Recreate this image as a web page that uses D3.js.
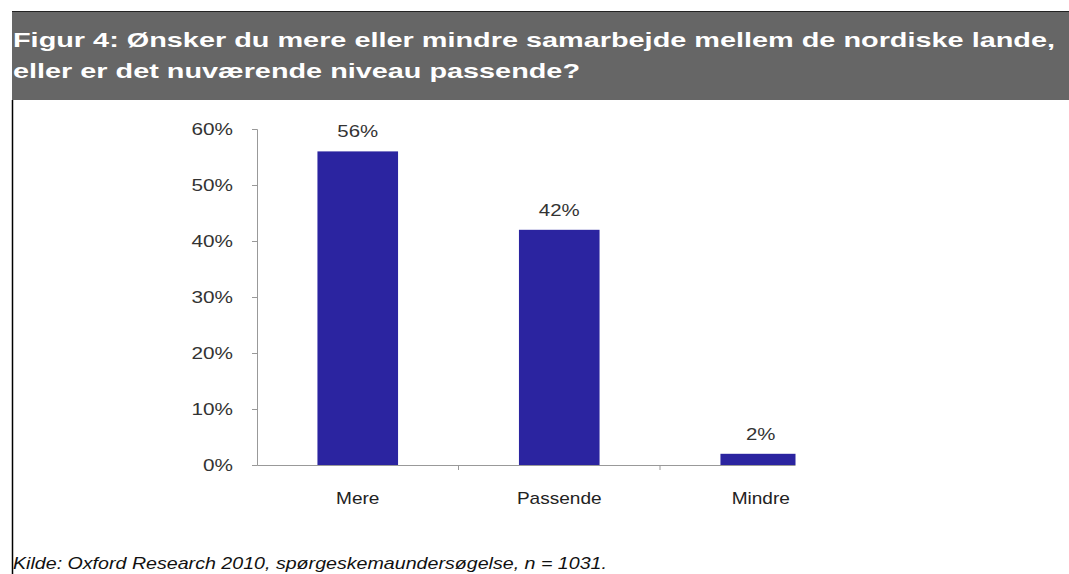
<!DOCTYPE html>
<html>
<head>
<meta charset="utf-8">
<script src="https://cdn.jsdelivr.net/npm/d3@7"></script>
<style>
  body { margin: 0; background: #fff; }
  svg { display: block; }
</style>
</head>
<body>
<div id="chart"></div>
<script>
const categories = ["Mere", "Passende", "Mindre"];
const values = [56, 42, 2];
const yTicks = [0, 10, 20, 30, 40, 50, 60];
const titleLines = [
    "Figur 4: Ønsker du mere eller mindre samarbejde mellem de nordiske lande,",
    "eller er det nuværende niveau passende?"
];
const source = "Kilde: Oxford Research 2010, spørgeskemaundersøgelse, n = 1031.";

const W = 1069, H = 574;
const font = "'Liberation Sans', Arial, sans-serif";

const svg = d3.select("#chart")
    .append("svg")
    .attr("width", W)
    .attr("height", H);

// stretch text a bit wider, the original is a squeezed screenshot
function widen(sel, k) {
    sel.each(function() {
        const len = this.getComputedTextLength();
        d3.select(this).attr("textLength", len * k).attr("lengthAdjust", "spacingAndGlyphs");
    });
}

// header box
svg.append("rect")
    .attr("x", 12).attr("y", 11)
    .attr("width", W - 12).attr("height", 89)
    .attr("fill", "#666666");
svg.append("line")
    .attr("x1", 12).attr("x2", W)
    .attr("y1", 11.5).attr("y2", 11.5)
    .attr("stroke", "#222").attr("stroke-width", 1);
svg.append("line")
    .attr("x1", 12.5).attr("x2", 12.5)
    .attr("y1", 100).attr("y2", H)
    .attr("stroke", "#000").attr("stroke-width", 1.5);

svg.append("text")
    .attr("x", 13).attr("y", 47)
    .attr("fill", "#fff")
    .style("font-family", font)
    .style("font-weight", "bold")
    .style("font-size", "21px")
    .attr("textLength", 1042)
    .attr("lengthAdjust", "spacingAndGlyphs")
    .text(titleLines[0]);
svg.append("text")
    .attr("x", 13).attr("y", 78)
    .attr("fill", "#fff")
    .style("font-family", font)
    .style("font-weight", "bold")
    .style("font-size", "21px")
    .attr("textLength", 567)
    .attr("lengthAdjust", "spacingAndGlyphs")
    .text(titleLines[1]);

// plot
const plotLeft = 257, plotBottom = 465, plotTop = 129;
const x = d3.scaleBand()
    .domain(categories)
    .range([plotLeft, plotLeft + 3 * 201.5])
    .paddingInner(0.6)
    .paddingOuter(0.3);

const y = d3.scaleLinear()
    .domain([0, 60])
    .range([plotBottom, plotTop]);

svg.append("defs").append("clipPath")
    .attr("id", "clip")
    .append("rect")
    .attr("x", 0).attr("y", 0)
    .attr("width", 795.5).attr("height", H);

const plot = svg.append("g").attr("clip-path", "url(#clip)");

const yAxis = plot.append("g")
    .attr("transform", `translate(${plotLeft},0)`)
    .call(d3.axisLeft(y).tickValues(yTicks).tickSize(5).tickPadding(19).tickFormat(d => d + "%"));
yAxis.select(".domain").attr("stroke", "#999");
yAxis.selectAll(".tick line").attr("stroke", "#999");
yAxis.selectAll("text")
    .attr("fill", "#333")
    .style("font-family", font)
    .style("font-size", "17px")
    .call(widen, 1.22);

// band boundaries for x ticks
const bounds = categories.map((c, i) => plotLeft + (i + 1) * 201.5);

const xAxis = plot.append("g")
    .attr("transform", `translate(0,${plotBottom})`)
    .call(d3.axisBottom(x).tickSize(0).tickPadding(27));
xAxis.select(".domain").attr("stroke", "#999");
xAxis.selectAll("text")
    .attr("fill", "#222")
    .style("font-family", font)
    .style("font-size", "17px")
    .call(widen, 1.12);

plot.append("g")
    .selectAll("line")
    .data(bounds)
    .join("line")
    .attr("x1", d => d).attr("x2", d => d)
    .attr("y1", plotBottom).attr("y2", plotBottom + 5)
    .attr("stroke", "#999");

plot.append("g")
    .selectAll("rect")
    .data(values)
    .join("rect")
    .attr("x", (d, i) => x(categories[i]))
    .attr("width", x.bandwidth())
    .attr("y", d => y(d))
    .attr("height", d => plotBottom - y(d))
    .attr("fill", "#2b24a0");

plot.append("g")
    .selectAll("text")
    .data(values)
    .join("text")
    .attr("x", (d, i) => x(categories[i]) + x.bandwidth() / 2)
    .attr("y", d => y(d) - 14)
    .attr("text-anchor", "middle")
    .attr("fill", "#333")
    .style("font-family", font)
    .style("font-size", "17px")
    .text(d => d + "%")
    .call(widen, 1.2);

// source
svg.append("text")
    .attr("x", 13).attr("y", 569)
    .attr("fill", "#111")
    .style("font-family", font)
    .style("font-style", "italic")
    .style("font-size", "17px")
    .attr("textLength", 594)
    .attr("lengthAdjust", "spacingAndGlyphs")
    .text(source);
</script>
</body>
</html>
